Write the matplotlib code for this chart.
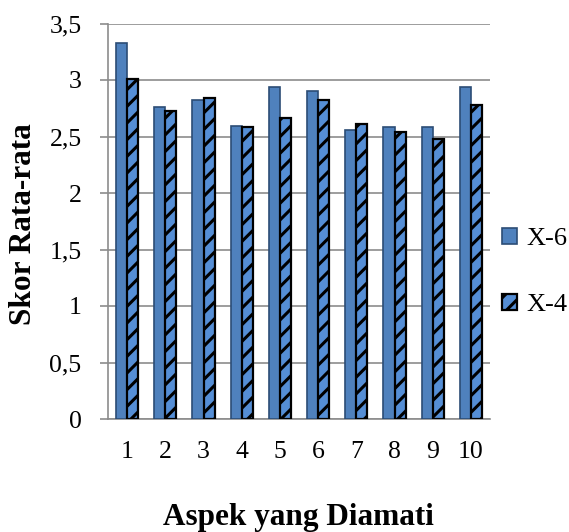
import numpy as np
import matplotlib.pyplot as plt
from matplotlib.ticker import FuncFormatter

aspek = ['1', '2', '3', '4', '5', '6', '7', '8', '9', '10']
skor_x6 = [3.33, 2.76, 2.82, 2.59, 2.94, 2.90, 2.56, 2.58, 2.58, 2.94]
skor_x4 = [3.01, 2.73, 2.84, 2.58, 2.66, 2.82, 2.61, 2.54, 2.48, 2.78]

plt.rcParams['font.family'] = ['Liberation Serif', 'DejaVu Serif']
plt.rcParams['hatch.linewidth'] = 2.2
plt.rcParams['hatch.color'] = 'black'

fig = plt.figure(figsize=(5.69, 5.32), dpi=100)
ax = fig.add_axes([108 / 569, 1 - 419 / 532, 382 / 569, 395.5 / 532])

x = np.arange(len(aspek))
w = 0.29
ax.bar(x - w / 2, skor_x6, w, color='#4F81BD', edgecolor='#2C4D75',
       linewidth=1.2, label='X-6', zorder=3)
ax.bar(x + w / 2, skor_x4, w, color='#558ED5', edgecolor='black',
       linewidth=1.6, hatch='//', label='X-4', zorder=3)

ax.set_xlim(-0.5, len(aspek) - 0.5)
ax.set_ylim(0, 3.5)
ax.set_yticks(np.arange(0, 3.51, 0.5))
ax.yaxis.set_major_formatter(FuncFormatter(
    lambda v, p: ('%g' % v).replace('.', ',')))
ax.set_xticks(x)
ax.set_xticklabels(aspek)
ax.tick_params(axis='both', labelsize=18.5, labelcolor='black')
ax.tick_params(axis='x', length=0, pad=16)
ax.tick_params(axis='y', length=6, width=1.2, color='#8c8c8c', pad=13)

ax.grid(axis='y', color='#8c8c8c', linewidth=1.2, zorder=0)
for s in ['top', 'right']:
    ax.spines[s].set_visible(False)
ax.spines['left'].set_color('#8c8c8c')
ax.spines['bottom'].set_color('#8c8c8c')
ax.spines['left'].set_linewidth(1.2)
ax.spines['bottom'].set_linewidth(1.2)

fig.text(24 / 569, 1 - 224 / 532, 'Skor Rata-rata', fontsize=22.5,
         fontweight='bold', rotation=90, ha='center', va='center')
fig.text(298 / 569, 1 - 518 / 532, 'Aspek yang Diamati', fontsize=22.5,
         fontweight='bold', ha='center', va='center')

fig.legend(loc='center left', bbox_to_anchor=(502 / 569, 1 - 272 / 532),
           frameon=False, fontsize=19, handlelength=0.57, handleheight=0.57,
           handletextpad=0.35, labelspacing=1.65, borderpad=0,
           borderaxespad=0)

fig.savefig('out.png', dpi=100)
